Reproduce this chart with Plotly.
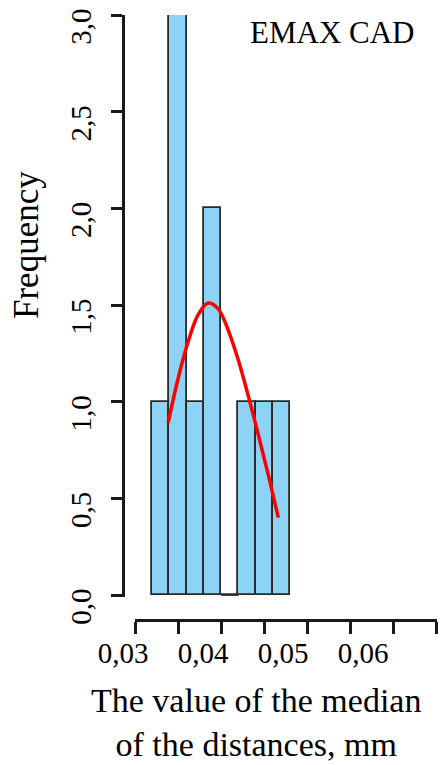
import plotly.graph_objects as go

# Histogram of median distances (mm), EMAX CAD group
bin_left_edges = [0.032, 0.034, 0.036, 0.038, 0.040, 0.042, 0.044, 0.046]
bin_counts = [1, 3, 1, 2, 0, 1, 1, 1]
bin_width = 0.002

# Fitted normal curve, sampled points
curve_x = [0.03384, 0.03500, 0.03616, 0.03733, 0.03849, 0.03965, 0.04081,
           0.04198, 0.04314, 0.04430, 0.04547, 0.04663]
curve_y = [0.89, 1.12, 1.31, 1.45, 1.51, 1.48, 1.37,
           1.215, 1.03, 0.83, 0.62, 0.40]

x_tick_values = [0.030, 0.035, 0.040, 0.045, 0.050, 0.055, 0.060, 0.065]
x_label_values = [0.03, 0.04, 0.05, 0.06]
x_label_text = ["0,03", "0,04", "0,05", "0,06"]
y_tick_values = [0.0, 0.5, 1.0, 1.5, 2.0, 2.5, 3.0]
y_tick_text = ["0,0", "0,5", "1,0", "1,5", "2,0", "2,5", "3,0"]

title_text = "EMAX CAD"
x_title = "The value of the median<br>of the distances, mm"
y_title = "Frequency"

W, H = 440, 765
SERIF = "Liberation Serif"
INK = "#1a1a1a"
BAR_EDGE = "#2a2a2a"
Y_PAD = 0.01  # small room below zero so the bar bottoms stay visible


def px_x(p):
    return p / W


def px_y(p):
    return 1 - p / H


bin_centers = [e + bin_width / 2 for e in bin_left_edges]

fig = go.Figure()
fig.add_trace(go.Bar(
    x=bin_centers, y=bin_counts, width=bin_width,
    marker=dict(color="#8dd3f6", line=dict(color=BAR_EDGE, width=1.8)),
    showlegend=False, hoverinfo="skip",
))
# empty bins still show their flat outline on the baseline
for left, count in zip(bin_left_edges, bin_counts):
    if count == 0:
        fig.add_trace(go.Scatter(
            x=[left, left + bin_width], y=[0, 0], mode="lines",
            line=dict(color=BAR_EDGE, width=1.8), cliponaxis=False,
            showlegend=False, hoverinfo="skip",
        ))
fig.add_trace(go.Scatter(
    x=curve_x, y=curve_y, mode="lines",
    line=dict(color="#ff0000", width=3.5, shape="spline", smoothing=1.0),
    showlegend=False, hoverinfo="skip",
))
# empty trace that carries the tick-label row
fig.add_trace(go.Scatter(x=[None], y=[None], xaxis="x2", yaxis="y",
                         showlegend=False, hoverinfo="skip"))

y_px_per_unit = (595 - 15) / 3.0

fig.update_layout(
    template="none",
    width=W, height=H,
    margin=dict(l=0, r=0, t=0, b=0, pad=0),
    paper_bgcolor="white", plot_bgcolor="rgba(0,0,0,0)",
    bargap=0,
    font=dict(family=SERIF, color="black"),
    xaxis=dict(
        domain=[px_x(135), px_x(436.7)],
        range=[0.030, 0.065],
        anchor="free", position=px_y(620),
        tickmode="array", tickvals=x_tick_values,
        showticklabels=False,
        ticks="outside", ticklen=12, tickwidth=2.5, tickcolor=INK,
        showline=True, linewidth=2.5, linecolor=INK,
        showgrid=False, zeroline=False, automargin=False,
    ),
    xaxis2=dict(
        domain=[px_x(100), 1.0],
        range=[0.030 - 23 / 8000, 0.030 + 317 / 8000],
        anchor="free", position=px_y(620),
        tickmode="array", tickvals=x_label_values, ticktext=x_label_text,
        tickfont=dict(family=SERIF, size=29, color="black"),
        ticks="outside", ticklen=7, tickcolor="rgba(0,0,0,0)",
        showline=False, showgrid=False, zeroline=False, automargin=False,
    ),
    yaxis=dict(
        domain=[px_y(595 + Y_PAD * y_px_per_unit), px_y(15)],
        range=[-Y_PAD, 3],
        anchor="free", position=px_x(123),
        tickmode="array", tickvals=y_tick_values, ticktext=y_tick_text,
        tickangle=-90,
        tickfont=dict(family=SERIF, size=29, color="black"),
        ticklabelshift=16, ticklabelstandoff=9,
        ticks="outside", ticklen=11, tickwidth=2.5, tickcolor=INK,
        showline=True, linewidth=2.5, linecolor=INK,
        showgrid=False, zeroline=False, automargin=False,
    ),
    annotations=[
        dict(text=title_text, x=px_x(332), y=px_y(33), xref="paper", yref="paper",
             showarrow=False, font=dict(family=SERIF, size=31, color="black"),
             xanchor="center", yanchor="middle"),
        dict(text=y_title, x=px_x(27), y=px_y(245), xref="paper", yref="paper",
             showarrow=False, textangle=-90,
             font=dict(family=SERIF, size=35, color="black"),
             xanchor="center", yanchor="middle"),
        dict(text=x_title, x=px_x(256), y=px_y(722), xref="paper", yref="paper",
             showarrow=False, font=dict(family=SERIF, size=34, color="black"),
             xanchor="center", yanchor="middle"),
    ],
)

fig.write_html("out.html")
